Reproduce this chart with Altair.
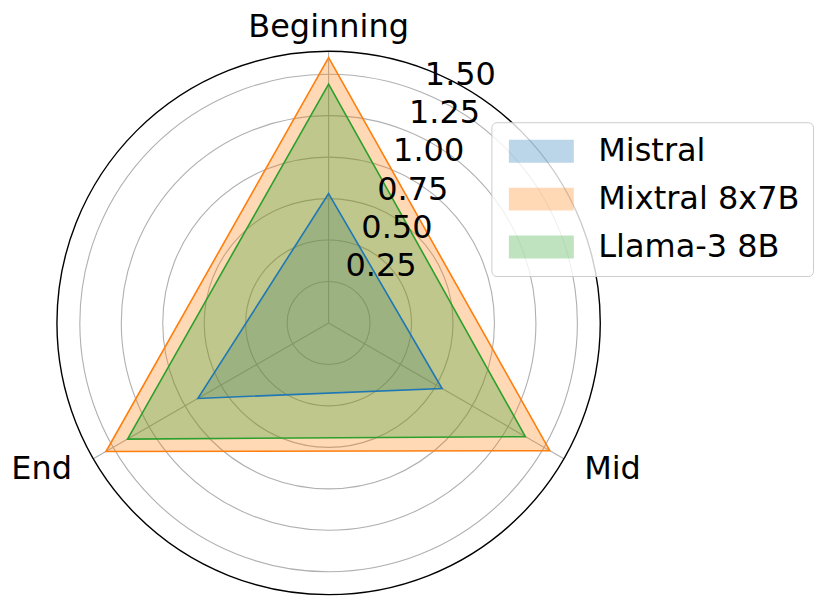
import altair as alt
import pandas as pd

# ---- data ----
categories = ["Beginning", "Mid", "End"]
models = ["Mistral", "Mixtral 8x7B", "Llama-3 8B"]
mistral = [0.78, 0.79, 0.91]
mixtral = [1.60, 1.54, 1.55]
llama = [1.44, 1.37, 1.40]
radial_ticks = [0.25, 0.50, 0.75, 1.00, 1.25, 1.50]
tick_labels = ["0.25", "0.50", "0.75", "1.00", "1.25", "1.50"]
colors = ["#1f77b4", "#ff7f0e", "#2ca02c"]

RMAX = 1.638
HALF = 272
LABEL_R = 1.80
TICK_ANGLE = 22.5

rows = []
for m, vals in zip(models, [mistral, mixtral, llama]):
    for i, (c, v) in enumerate(zip(categories, vals)):
        rows.append({"model": m, "idx": i, "category": c, "value": v})
df = pd.DataFrame(rows)

grid_df = pd.DataFrame({"r": radial_ticks, "label": tick_labels})
outer_df = pd.DataFrame({"r": [RMAX]})
spoke_df = pd.DataFrame({"idx": list(range(len(categories))), "category": categories})

xs = alt.Scale(domain=[-RMAX, RMAX], nice=False, zero=False)
ys = alt.Scale(domain=[-RMAX, RMAX], nice=False, zero=False)
rs = alt.Scale(type="linear", domain=[0, RMAX], range=[0, HALF], zero=True, nice=False)
cs = alt.Scale(domain=models, range=colors)
FONT = "DejaVu Sans"
FS = 32
N = len(categories)

grid = alt.Chart(grid_df).mark_arc(
    theta=0, theta2=6.2832, filled=False, stroke="#b0b0b0", strokeWidth=1.1
).encode(radius=alt.Radius("r:Q", scale=rs, stack=None))

spokes = alt.Chart(spoke_df).transform_calculate(
    a=f"datum.idx*2*PI/{N}",
    x0="0", y0="0",
    x1=f"{RMAX}*sin(datum.a)", y1=f"{RMAX}*cos(datum.a)",
).mark_rule(color="#b0b0b0", strokeWidth=1.1).encode(
    x=alt.X("x0:Q", scale=xs, axis=None),
    y=alt.Y("y0:Q", scale=ys, axis=None),
    x2="x1:Q", y2="y1:Q",
)

poly_base = alt.Chart(df).transform_calculate(
    a=f"datum.idx*2*PI/{N}",
    px="datum.value*sin(datum.a)",
    py="datum.value*cos(datum.a)",
)

fills = poly_base.mark_line(
    interpolate="linear-closed", fillOpacity=0.3, strokeOpacity=0, strokeWidth=0
).encode(
    x=alt.X("px:Q", scale=xs, axis=None),
    y=alt.Y("py:Q", scale=ys, axis=None),
    order=alt.Order("idx:Q"),
    fill=alt.Fill(
        "model:N",
        scale=cs,
        legend=alt.Legend(
            title=None, orient="none", legendX=435, legendY=71,
            labelFont=FONT, labelFontSize=FS, labelColor="black", labelLimit=0,
            symbolType="M-1,-1L4.652,-1L4.652,1L-1,1Z",
            symbolSize=529, symbolStrokeWidth=0, symbolOpacity=0.3,
            labelOffset=62, rowPadding=16, padding=13,
            strokeColor="#cccccc", fillColor="rgba(255,255,255,0.8)",
            cornerRadius=5,
        ),
    ),
)

lines = poly_base.mark_line(interpolate="linear-closed", strokeWidth=1.6).encode(
    x=alt.X("px:Q", scale=xs, axis=None),
    y=alt.Y("py:Q", scale=ys, axis=None),
    order=alt.Order("idx:Q"),
    stroke=alt.Stroke("model:N", scale=cs, legend=None),
)

outer = alt.Chart(outer_df).mark_arc(
    theta=0, theta2=6.2832, filled=False, stroke="black", strokeWidth=1.4
).encode(radius=alt.Radius("r:Q", scale=rs, stack=None))

ticktext = alt.Chart(grid_df).transform_calculate(
    tx=f"datum.r*sin({TICK_ANGLE}*PI/180)",
    ty=f"datum.r*cos({TICK_ANGLE}*PI/180)",
).mark_text(align="left", baseline="alphabetic", dx=1, dy=-8.5,
            font=FONT, fontSize=FS, color="black").encode(
    x=alt.X("tx:Q", scale=xs, axis=None),
    y=alt.Y("ty:Q", scale=ys, axis=None),
    text="label:N",
)

def cat_label(cat, align, dx, dy):
    return alt.Chart(spoke_df).transform_filter(
        alt.datum.category == cat
    ).transform_calculate(
        a=f"datum.idx*2*PI/{N}",
        lx=f"{LABEL_R}*sin(datum.a)",
        ly=f"{LABEL_R}*cos(datum.a)",
    ).mark_text(align=align, baseline="middle", dx=dx, dy=dy,
                font=FONT, fontSize=FS, color="black").encode(
        x=alt.X("lx:Q", scale=xs, axis=None),
        y=alt.Y("ly:Q", scale=ys, axis=None),
        text="category:N",
    )

labels = cat_label("Beginning", "center", 0, 3) + cat_label("Mid", "left", -3, -3.5) + cat_label("End", "right", 2, -3.5)

chart = alt.layer(grid, spokes, fills, lines, outer, ticktext, labels).properties(
    width=2 * HALF, height=2 * HALF,
    autosize=alt.AutoSizeParams(type="none"),
    padding={"left": 49, "top": 43, "right": 222, "bottom": 6},
).configure_view(stroke=None)

chart.save("out.html", embed_options={"renderer": "svg", "actions": False})
